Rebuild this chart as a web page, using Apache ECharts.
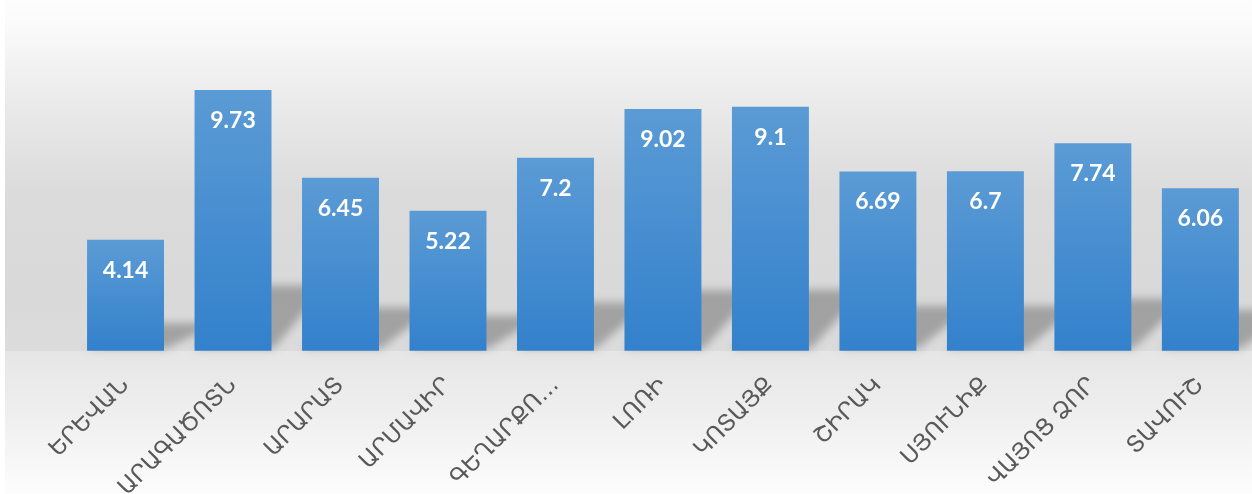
<!DOCTYPE html>
<html>
<head>
<meta charset="utf-8">
<script src="https://cdn.jsdelivr.net/npm/echarts@6/dist/echarts.min.js"></script>
<style>
html,body{margin:0;padding:0;background:#fff;}
#main{width:1252px;height:494px;}
</style>
</head>
<body>
<div id="main"></div>
<script>
var categories = ['ԵՐԵՎԱՆ','ԱՐԱԳԱԾՈՏՆ','ԱՐԱՐԱՏ','ԱՐՄԱՎԻՐ','ԳԵՂԱՐՔՈ…','ԼՈՌԻ','ԿՈՏԱՅՔ','ՇԻՐԱԿ','ՍՅՈՒՆԻՔ','ՎԱՅՈՑ ՁՈՐ','ՏԱՎՈՒՇ'];
var values = [4.14, 9.73, 6.45, 5.22, 7.2, 9.02, 9.1, 6.69, 6.7, 7.74, 6.06];
var yMin = 0, yMax = 10;

var chart = echarts.init(document.getElementById('main'), null, {renderer:'canvas'});
var option = {
  animation: false,
  backgroundColor: '#ffffff',
  graphic: [
    {type:'rect', z:-10, shape:{x:5,y:0,width:1247,height:351},
     style:{fill:{type:'linear',x:0,y:0,x2:0,y2:1,colorStops:[
       {offset:0,color:'#fdfdfd'},{offset:0.08,color:'#fafafa'},{offset:0.25,color:'#ededed'},
       {offset:0.55,color:'#dbdbdb'},{offset:0.85,color:'#d9d9d9'},{offset:1,color:'#dcdcdc'}]}}},
    {type:'rect', z:-10, shape:{x:5,y:351,width:1247,height:143},
     style:{fill:{type:'linear',x:0,y:0,x2:0,y2:1,colorStops:[
       {offset:0,color:'#e6e6e6'},{offset:0.5,color:'#f0f0f0'},{offset:1,color:'#fdfdfd'}]}}}
  ],
  grid: {left: 71.8, width: 1182.3, top: 82.7, height: 268, containLabel: false, outerBoundsMode: 'none'},
  xAxis: {
    type: 'category', data: categories,
    axisLine: {show:false}, axisTick: {show:false},
    axisLabel: {rotate: 45, margin: 31, color: '#595959', fontSize: 23,
      fontFamily: '"DejaVu Sans"', interval: 0}
  },
  yAxis: {type:'value', min:yMin, max:yMax, show:false, splitLine:{show:false}},
  series: [
    {
      type: 'custom', z: 1, silent: true,
      data: values.map(function(v,i){return [i,v];}),
      renderItem: function(params, api){
        var base = api.coord([api.value(0), 0]);
        var top = api.coord([api.value(0), api.value(1)]);
        var bw = api.size([1,0])[0]*0.716;
        var xL = base[0]-bw/2, xR = base[0]+bw/2;
        var h = (base[1]-top[1])*0.25;
        var off = 3000;
        return {
          type:'polygon',
          shape:{points:[[xL-off,base[1]-2],[xR+2-off,base[1]-2],[xR+55-off,base[1]-h],[xL+55-off,base[1]-h]]},
          style:{fill:'rgba(0,0,0,1)', shadowBlur:9, shadowColor:'rgba(0,0,0,0.26)', shadowOffsetX: off}
        };
      }
    },
    {
      type: 'bar', z: 2,
      data: values,
      barCategoryGap: '28.4%',
      itemStyle: {color: {type:'linear',x:0,y:0,x2:0,y2:1,colorStops:[
        {offset:0,color:'#5b9bd5'},{offset:1,color:'#3381cc'}]}},
      label: {show:true, position:'insideTop', distance:19, color:'#ffffff',
        fontFamily:'Lato', fontWeight:'bold', fontSize:23}
    }
  ]
};
chart.setOption(option);
</script>
</body>
</html>
